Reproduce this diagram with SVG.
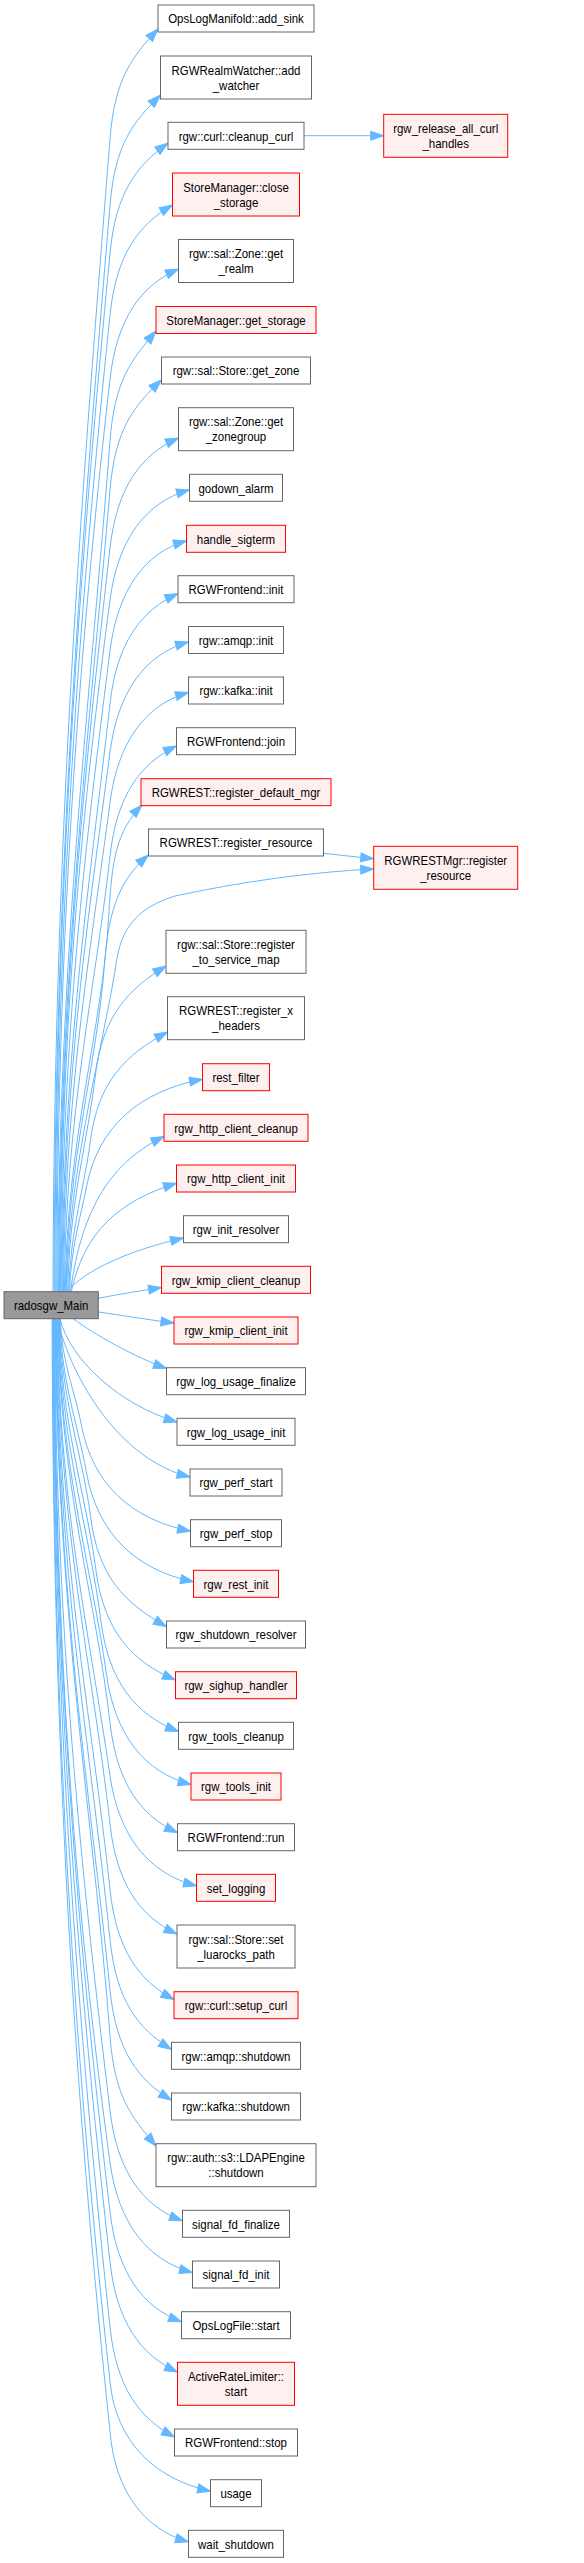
<svg xmlns="http://www.w3.org/2000/svg" width="584" height="2563" viewBox="0 0 584 2563">
<style>
.n rect{fill:#ffffff;stroke:#666666;stroke-width:1}
.r rect{fill:#fff0f0;stroke:#ff0000;stroke-width:1}
.m rect{fill:#999999;stroke:#666666;stroke-width:1}
text{font-family:"Liberation Sans",Arial,Helvetica,sans-serif;font-size:13.33px;text-anchor:middle;fill:#000000}
#edges path{fill:none;stroke:#63b8ff;stroke-width:1;marker-end:url(#ah)}
</style>
<defs>
<marker id="ah" markerUnits="userSpaceOnUse" markerWidth="15" markerHeight="11" refX="13" refY="4.5" orient="auto" overflow="visible">
<path d="M0,0 L13,4.5 L0,9 Z" fill="#63b8ff" stroke="#63b8ff" stroke-width="1"/>
</marker>
</defs>
<rect x="0" y="0" width="584" height="2563" fill="#ffffff"/>
<g id="edges">
<path d="M53,1291.7C54,830.6 82.6,484.7 110,138.9C114.8,78.4 131.6,57.7 158,28.9"/>
<path d="M54,1291.7C55,857 82.8,531 110,205C115.1,144.5 132.7,122.3 160.5,95"/>
<path d="M54.8,1291.7C55.8,876.3 80.2,564.8 110,253.2C115.8,192.7 136.1,166 168,143.2"/>
<path d="M55.8,1291.7C56.8,901 79.8,608 110,315C116.3,254.5 138.1,225.1 172.5,205"/>
<path d="M56.8,1291.7C57.8,926.6 79,652.8 110,379C116.9,318.5 140.8,285.5 178.5,269"/>
<path d="M57.8,1291.7C58.8,951.4 90.6,696.2 110,441C114.6,380.5 130.7,361 156,331"/>
<path d="M58.6,1291.7C59.6,971 89.5,730.4 110,489.9C115.2,429.4 133.2,406.6 161.5,379.9"/>
<path d="M59.5,1291.7C60.5,994.2 84.8,771.1 110,548C116.9,487.5 140.8,454.5 178.5,438"/>
<path d="M60.3,1291.7C61.3,1014.9 82.7,807.4 110,599.8C118,539.3 145.8,501.8 189.5,489.8"/>
<path d="M61.1,1291.7C62.1,1035.3 85.7,843.1 110,650.8C117.7,590.3 144.4,552.8 186.5,540.8"/>
<path d="M61.9,1291.7C62.9,1056.5 90.2,880 110,703.6C116.8,643.1 140.6,610.4 178,593.6"/>
<path d="M62.7,1291.7C63.7,1075.8 89,913.9 110,752C117.9,691.5 145.3,654 188.5,642"/>
<path d="M63.5,1291.7C64.5,1096 90.9,949.3 110,802.5C117.9,742 145.4,704.5 188.5,692.5"/>
<path d="M64.4,1291.7C65.4,1117.4 95.6,986.7 110,856C116.7,795.5 140,763.6 176.5,746"/>
<path d="M65.3,1291.7C66.3,1140.9 102.8,1027.8 108.8,914.7C112,860 116,832 142,805"/>
<path d="M66.1,1291.7C67.1,1161 97.3,1063 104.4,965C108.8,904.5 122,878 148.5,855"/>
<path d="M66.8,1291.7C67.8,1170 105,1040 117,958C123,925 140,907 175,896C240,882 310,872 373.7,869"/>
<path d="M67.8,1291.7C68.8,1205.4 87.7,1140.7 95.3,1076C102.4,1016.5 127.1,990 166,966"/>
<path d="M68.9,1291.7C69.9,1231.8 84.4,1186.9 90.2,1142C97.95,1081.5 125.1,1055 167.5,1032"/>
<path d="M69.6,1291.7C70.6,1249.2 80.5,1217.4 86.8,1185.5C98.4,1127 139,1091.2 202.5,1079.2"/>
<path d="M70.5,1291.7C81.7,1206.3 112.6,1161.6 164,1136.4"/>
<path d="M71.3,1291.7C84,1232.1 118.7,1200.9 176.5,1183.3"/>
<path d="M67,1291.7C85,1270 130,1250 183.5,1238"/>
<path d="M98.3,1298.3C120,1294 140,1291 161.5,1287.5"/>
<path d="M98.3,1312C120,1315 150,1320 174,1323"/>
<path d="M73.3,1318.7C95,1335 135,1357 166.5,1368.5"/>
<path d="M60,1318.7C70,1360 120,1405 177,1422"/>
<path d="M57,1318.7C72,1380 120,1460 190,1477"/>
<path d="M60.3,1318.7C61.3,1361.2 75.5,1393.1 81.4,1425C92.3,1483.4 130.4,1519.2 190.5,1531.2"/>
<path d="M59.9,1318.7C60.9,1379.9 78.2,1425.9 86.3,1471.8C97,1532.3 134.6,1569.8 193.5,1581.8"/>
<path d="M59.5,1318.7C60.5,1397.9 83.1,1457.3 90.6,1516.7C98.2,1577.2 124.8,1603.1 166.5,1626.7"/>
<path d="M59.1,1318.7C60.1,1419.2 86,1494.6 95.9,1570C103.8,1630.5 131.6,1661.6 175.5,1680"/>
<path d="M58.7,1318.7C59.7,1439.8 89.4,1530.7 101,1621.5C108.7,1682 135.8,1714.9 178.5,1731.5"/>
<path d="M58.2,1318.7C59.2,1461 91.6,1567.8 106.5,1674.5C114.9,1735 144.5,1772.5 191,1784.5"/>
<path d="M57.9,1318.7C58.9,1480.3 96.4,1601.5 110,1722.7C116.8,1783.2 140.5,1815.7 177.5,1832.7"/>
<path d="M57.4,1318.7C58.4,1501.5 90.4,1638.7 110,1775.8C118.7,1836.3 149,1873.8 196.5,1885.8"/>
<path d="M57,1318.7C58,1520.8 93.2,1672.4 110,1824C116.7,1884.5 140.1,1916.6 177,1934"/>
<path d="M56.5,1318.7C57.5,1547.1 91.9,1718.3 110,1889.6C116.4,1950.1 138.8,1980.4 174,1999.6"/>
<path d="M56.1,1318.7C57.1,1567 91.1,1753.2 110,1939.4C116.1,2000 137.6,2028.6 171.5,2049.4"/>
<path d="M55.7,1318.7C56.7,1587.3 89.5,1788.7 110,1990.2C116.2,2050.7 137.8,2079.6 171.5,2100.2"/>
<path d="M55.3,1318.7C56.3,1605.6 93.7,1820.8 110,2036C114.6,2096.5 130.7,2116 156,2146"/>
<path d="M54.7,1318.7C55.7,1635.5 81.6,1873.1 110,2110.7C117.2,2171.2 142.5,2206.5 182.5,2220.7"/>
<path d="M54.3,1318.7C55.3,1656.2 75.4,1909.4 110,2162.5C118.3,2223 147.2,2260.5 192.5,2272.5"/>
<path d="M53.9,1318.7C54.9,1675.9 78.4,1943.9 110,2211.8C117.1,2272.3 142.1,2307 181.5,2321.8"/>
<path d="M53.5,1318.7C54.5,1696 78.4,1979 110,2262C116.8,2322.5 140.5,2355 177.5,2372"/>
<path d="M53,1318.7C54,1722 77.9,2024.5 110,2327C116.4,2387.5 138.9,2417.9 174.5,2437"/>
<path d="M52.5,1318.7C53.5,1743.7 75,2062.4 110,2381.2C115.4,2441.7 155.3,2479.2 210.5,2491.2"/>
<path d="M52.1,1318.7C53.1,1763.9 75,2097.9 110,2431.8C115.2,2492.3 145.2,2529.8 188.5,2541.8"/>
<path d="M304,135.7L383.7,135.7"/>
<path d="M323.5,853.3C340,855 356,857 373.7,858.7"/>
</g>
<g id="main" class="m"><rect x="4" y="1291.7" width="94.3" height="27"/><text x="59.48" y="1310" transform="scale(0.86 1)">radosgw_Main</text></g>
<g id="n1" class="n"><rect x="158" y="5" width="156" height="27"/><text x="274.42" y="23.3" transform="scale(0.86 1)">OpsLogManifold::add_sink</text></g>
<g id="n2" class="n"><rect x="160.5" y="56" width="151" height="43"/><text x="274.42" y="74.75" transform="scale(0.86 1)">RGWRealmWatcher::add</text><text x="274.42" y="89.75" transform="scale(0.86 1)">_watcher</text></g>
<g id="n3" class="n"><rect x="168" y="122.3" width="136" height="27"/><text x="274.42" y="140.6" transform="scale(0.86 1)">rgw::curl::cleanup_curl</text></g>
<g id="n4" class="r"><rect x="172.5" y="173" width="127" height="43"/><text x="274.42" y="191.75" transform="scale(0.86 1)">StoreManager::close</text><text x="274.42" y="206.75" transform="scale(0.86 1)">_storage</text></g>
<g id="n5" class="n"><rect x="178.5" y="239.5" width="115" height="43"/><text x="274.42" y="258.25" transform="scale(0.86 1)">rgw::sal::Zone::get</text><text x="274.42" y="273.25" transform="scale(0.86 1)">_realm</text></g>
<g id="n6" class="r"><rect x="156" y="306.5" width="160" height="27"/><text x="274.42" y="324.8" transform="scale(0.86 1)">StoreManager::get_storage</text></g>
<g id="n7" class="n"><rect x="161.5" y="357" width="149" height="27"/><text x="274.42" y="375.3" transform="scale(0.86 1)">rgw::sal::Store::get_zone</text></g>
<g id="n8" class="n"><rect x="178.5" y="407.7" width="115" height="43"/><text x="274.42" y="426.45" transform="scale(0.86 1)">rgw::sal::Zone::get</text><text x="274.42" y="441.45" transform="scale(0.86 1)">_zonegroup</text></g>
<g id="n9" class="n"><rect x="189.5" y="474.3" width="93" height="27"/><text x="274.42" y="492.6" transform="scale(0.86 1)">godown_alarm</text></g>
<g id="n10" class="r"><rect x="186.5" y="525.3" width="99" height="27"/><text x="274.42" y="543.6" transform="scale(0.86 1)">handle_sigterm</text></g>
<g id="n11" class="n"><rect x="178" y="575.7" width="116" height="27"/><text x="274.42" y="594" transform="scale(0.86 1)">RGWFrontend::init</text></g>
<g id="n12" class="n"><rect x="188.5" y="626.5" width="95" height="27"/><text x="274.42" y="644.8" transform="scale(0.86 1)">rgw::amqp::init</text></g>
<g id="n13" class="n"><rect x="188.5" y="677" width="95" height="27"/><text x="274.42" y="695.3" transform="scale(0.86 1)">rgw::kafka::init</text></g>
<g id="n14" class="n"><rect x="176.5" y="727.7" width="119" height="27"/><text x="274.42" y="746" transform="scale(0.86 1)">RGWFrontend::join</text></g>
<g id="n15" class="r"><rect x="141" y="778.7" width="190" height="27"/><text x="274.42" y="797" transform="scale(0.86 1)">RGWREST::register_default_mgr</text></g>
<g id="n16" class="n"><rect x="148.5" y="829" width="175" height="27"/><text x="274.42" y="847.3" transform="scale(0.86 1)">RGWREST::register_resource</text></g>
<g id="n17" class="n"><rect x="166" y="930.3" width="140" height="43"/><text x="274.42" y="949.05" transform="scale(0.86 1)">rgw::sal::Store::register</text><text x="274.42" y="964.05" transform="scale(0.86 1)">_to_service_map</text></g>
<g id="n18" class="n"><rect x="167.5" y="996.7" width="137" height="43"/><text x="274.42" y="1015.45" transform="scale(0.86 1)">RGWREST::register_x</text><text x="274.42" y="1030.45" transform="scale(0.86 1)">_headers</text></g>
<g id="n19" class="r"><rect x="202.5" y="1063.7" width="67" height="27"/><text x="274.42" y="1082" transform="scale(0.86 1)">rest_filter</text></g>
<g id="n20" class="r"><rect x="164" y="1114.3" width="144" height="27"/><text x="274.42" y="1132.6" transform="scale(0.86 1)">rgw_http_client_cleanup</text></g>
<g id="n21" class="r"><rect x="176.5" y="1165" width="119" height="27"/><text x="274.42" y="1183.3" transform="scale(0.86 1)">rgw_http_client_init</text></g>
<g id="n22" class="n"><rect x="183.5" y="1215.7" width="105" height="27"/><text x="274.42" y="1234" transform="scale(0.86 1)">rgw_init_resolver</text></g>
<g id="n23" class="r"><rect x="161.5" y="1266.3" width="149" height="27"/><text x="274.42" y="1284.6" transform="scale(0.86 1)">rgw_kmip_client_cleanup</text></g>
<g id="n24" class="r"><rect x="174" y="1317" width="124" height="27"/><text x="274.42" y="1335.3" transform="scale(0.86 1)">rgw_kmip_client_init</text></g>
<g id="n25" class="n"><rect x="166.5" y="1367.7" width="139" height="27"/><text x="274.42" y="1386" transform="scale(0.86 1)">rgw_log_usage_finalize</text></g>
<g id="n26" class="n"><rect x="177" y="1418.3" width="118" height="27"/><text x="274.42" y="1436.6" transform="scale(0.86 1)">rgw_log_usage_init</text></g>
<g id="n27" class="n"><rect x="190" y="1469" width="92" height="27"/><text x="274.42" y="1487.3" transform="scale(0.86 1)">rgw_perf_start</text></g>
<g id="n28" class="n"><rect x="190.5" y="1519.7" width="91" height="27"/><text x="274.42" y="1538" transform="scale(0.86 1)">rgw_perf_stop</text></g>
<g id="n29" class="r"><rect x="193.5" y="1570.3" width="85" height="27"/><text x="274.42" y="1588.6" transform="scale(0.86 1)">rgw_rest_init</text></g>
<g id="n30" class="n"><rect x="166.5" y="1621" width="139" height="27"/><text x="274.42" y="1639.3" transform="scale(0.86 1)">rgw_shutdown_resolver</text></g>
<g id="n31" class="r"><rect x="175.5" y="1671.7" width="121" height="27"/><text x="274.42" y="1690" transform="scale(0.86 1)">rgw_sighup_handler</text></g>
<g id="n32" class="n"><rect x="178.5" y="1722.3" width="115" height="27"/><text x="274.42" y="1740.6" transform="scale(0.86 1)">rgw_tools_cleanup</text></g>
<g id="n33" class="r"><rect x="191" y="1773" width="90" height="27"/><text x="274.42" y="1791.3" transform="scale(0.86 1)">rgw_tools_init</text></g>
<g id="n34" class="n"><rect x="177.5" y="1823.7" width="117" height="27"/><text x="274.42" y="1842" transform="scale(0.86 1)">RGWFrontend::run</text></g>
<g id="n35" class="r"><rect x="196.5" y="1874.3" width="79" height="27"/><text x="274.42" y="1892.6" transform="scale(0.86 1)">set_logging</text></g>
<g id="n36" class="n"><rect x="177" y="1925" width="118" height="43"/><text x="274.42" y="1943.75" transform="scale(0.86 1)">rgw::sal::Store::set</text><text x="274.42" y="1958.75" transform="scale(0.86 1)">_luarocks_path</text></g>
<g id="n37" class="r"><rect x="174" y="1991.7" width="124" height="27"/><text x="274.42" y="2010" transform="scale(0.86 1)">rgw::curl::setup_curl</text></g>
<g id="n38" class="n"><rect x="171.5" y="2042.3" width="129" height="27"/><text x="274.42" y="2060.6" transform="scale(0.86 1)">rgw::amqp::shutdown</text></g>
<g id="n39" class="n"><rect x="171.5" y="2093" width="129" height="27"/><text x="274.42" y="2111.3" transform="scale(0.86 1)">rgw::kafka::shutdown</text></g>
<g id="n40" class="n"><rect x="156" y="2143.7" width="160" height="43"/><text x="274.42" y="2162.45" transform="scale(0.86 1)">rgw::auth::s3::LDAPEngine</text><text x="274.42" y="2177.45" transform="scale(0.86 1)">::shutdown</text></g>
<g id="n41" class="n"><rect x="182.5" y="2210.3" width="107" height="27"/><text x="274.42" y="2228.6" transform="scale(0.86 1)">signal_fd_finalize</text></g>
<g id="n42" class="n"><rect x="192.5" y="2261" width="87" height="27"/><text x="274.42" y="2279.3" transform="scale(0.86 1)">signal_fd_init</text></g>
<g id="n43" class="n"><rect x="181.5" y="2311.7" width="109" height="27"/><text x="274.42" y="2330" transform="scale(0.86 1)">OpsLogFile::start</text></g>
<g id="n44" class="r"><rect x="177.5" y="2362.3" width="117" height="43"/><text x="274.42" y="2381.05" transform="scale(0.86 1)">ActiveRateLimiter::</text><text x="274.42" y="2396.05" transform="scale(0.86 1)">start</text></g>
<g id="n45" class="n"><rect x="174.5" y="2429" width="123" height="27"/><text x="274.42" y="2447.3" transform="scale(0.86 1)">RGWFrontend::stop</text></g>
<g id="n46" class="n"><rect x="210.5" y="2479.7" width="51" height="27"/><text x="274.42" y="2498" transform="scale(0.86 1)">usage</text></g>
<g id="n47" class="n"><rect x="188.5" y="2530.3" width="95" height="27"/><text x="274.42" y="2548.6" transform="scale(0.86 1)">wait_shutdown</text></g>
<g id="r1" class="r"><rect x="383.7" y="114.3" width="124" height="43"/><text x="518.26" y="133.05" transform="scale(0.86 1)">rgw_release_all_curl</text><text x="518.26" y="148.05" transform="scale(0.86 1)">_handles</text></g>
<g id="r2" class="r"><rect x="373.7" y="846.3" width="144" height="43"/><text x="518.26" y="865.05" transform="scale(0.86 1)">RGWRESTMgr::register</text><text x="518.26" y="880.05" transform="scale(0.86 1)">_resource</text></g>
</svg>
